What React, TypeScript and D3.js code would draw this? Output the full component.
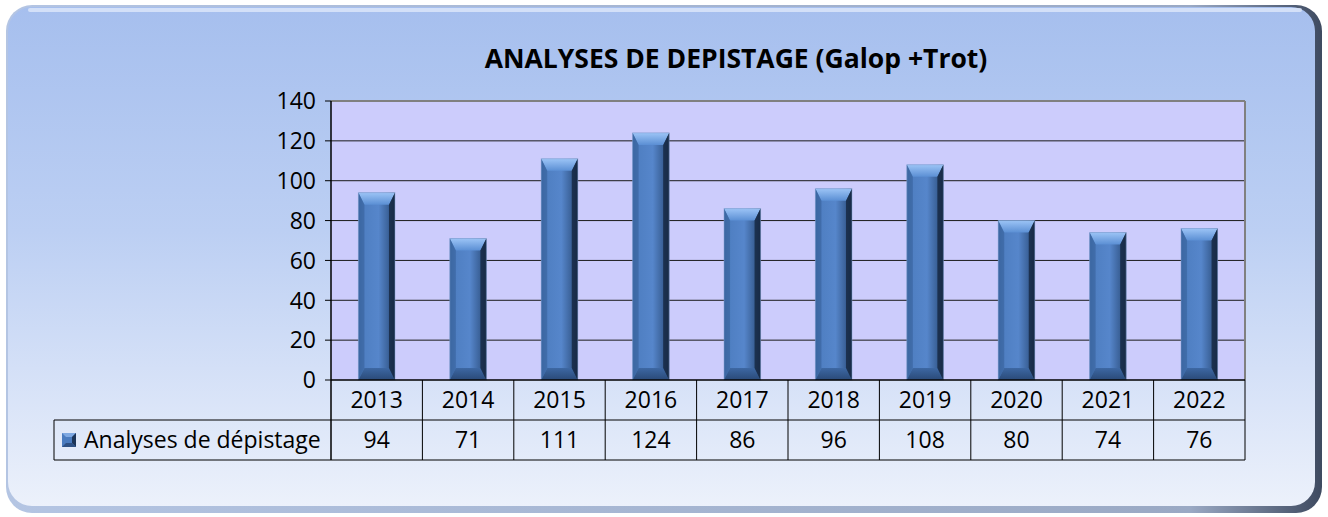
import React from 'react';
import * as d3 from 'd3';

const years = ['2013', '2014', '2015', '2016', '2017', '2018', '2019', '2020', '2021', '2022'];
const values = [94, 71, 111, 124, 86, 96, 108, 80, 74, 76];
const yTicks = [0, 20, 40, 60, 80, 100, 120, 140];
const seriesName = 'Analyses de dépistage';
const title = 'ANALYSES DE DEPISTAGE (Galop +Trot)';

const W = 1328;
const H = 517;
const plot = { left: 331, right: 1245, top: 101, bottom: 380 };
const rowH = 40;
const legendLeft = 54;
const font = '"Open Sans", sans-serif';
const fs = 23;

export default function App() {
  const x = d3.scaleBand<string>().domain(years).range([plot.left, plot.right]).paddingInner(0.6).paddingOuter(0.3);
  const cols = d3.scaleBand<string>().domain(years).range([plot.left, plot.right]);
  const y = d3.scaleLinear().domain([0, 140]).range([plot.bottom, plot.top]);

  const bw = x.bandwidth();
  const inset = 6;
  const bev = 12;

  return (
    <svg width={W} height={H} style={{ position: 'absolute', left: 0, top: 0 }}>
      <defs>
        <linearGradient id="bg" x1="0" y1="0" x2="0" y2="1">
          <stop offset="0%" stopColor="#a6bfee" />
          <stop offset="45%" stopColor="#bccff3" />
          <stop offset="100%" stopColor="#ecf1fb" />
        </linearGradient>
        <linearGradient id="rim" x1="0" y1="0" x2="1" y2="0">
          <stop offset="0%" stopColor="#b4c5e3" />
          <stop offset="90%" stopColor="#9aa9c4" />
          <stop offset="100%" stopColor="#3e4a60" />
        </linearGradient>
        <linearGradient id="bar" x1="0" y1="0" x2="1" y2="0">
          <stop offset="0%" stopColor="#3f6ca8" />
          <stop offset="15%" stopColor="#4f7fc2" />
          <stop offset="55%" stopColor="#5686cb" />
          <stop offset="82%" stopColor="#3b6299" />
          <stop offset="100%" stopColor="#1b2f4c" />
        </linearGradient>
        <linearGradient id="topBev" x1="0" y1="0" x2="0" y2="1">
          <stop offset="0%" stopColor="#9cc4f6" />
          <stop offset="100%" stopColor="#5b8fd4" />
        </linearGradient>
        <linearGradient id="botBev" x1="0" y1="0" x2="0" y2="1">
          <stop offset="0%" stopColor="#3d68a3" />
          <stop offset="100%" stopColor="#2a4a78" />
        </linearGradient>
      </defs>

      {/* background panel */}
      <rect x={6} y={5} width={1316} height={508} rx={26} fill="url(#rim)" />
      <rect x={8} y={7} width={1307} height={499} rx={24} fill="url(#bg)" />
      <path d="M 30 10 L 1300 10" stroke="#dfe9fb" strokeWidth={4} strokeLinecap="round" opacity={0.8} />

      <text x={736} y={68} textAnchor="middle" fontFamily={font} fontWeight="bold" fontSize={26.5} fill="#000">
        {title}
      </text>

      {/* plot area */}
      <rect x={plot.left} y={plot.top} width={plot.right - plot.left} height={plot.bottom - plot.top} fill="#ccccfc" />
      {yTicks.slice(1).map(t => (
        <line key={t} x1={plot.left} x2={plot.right} y1={y(t)} y2={y(t)}
          stroke={t === 140 ? '#808080' : '#1a1a1a'} strokeWidth={t === 140 ? 2 : 1} />
      ))}
      <line x1={plot.right} x2={plot.right} y1={plot.top} y2={plot.bottom} stroke="#808080" strokeWidth={2} />

      {/* bars */}
      {years.map((yr, i) => {
        const x0 = x(yr)!;
        const x1 = x0 + bw;
        const yt = y(values[i]);
        const yb = y(0);
        return (
          <g key={yr}>
            <rect x={x0} y={yt} width={bw} height={yb - yt} fill="url(#bar)" />
            <polygon points={`${x0},${yt} ${x1},${yt} ${x1 - inset},${yt + bev} ${x0 + inset},${yt + bev}`} fill="url(#topBev)" />
            <polygon points={`${x0},${yb} ${x1},${yb} ${x1 - inset},${yb - bev} ${x0 + inset},${yb - bev}`} fill="url(#botBev)" />
            <polygon points={`${x0},${yt} ${x0 + inset},${yt + bev} ${x0 + inset},${yb - bev} ${x0},${yb}`} fill="#3a65a0" opacity={0.7} />
            <polygon points={`${x1},${yt} ${x1 - inset},${yt + bev} ${x1 - inset},${yb - bev} ${x1},${yb}`} fill="#172a45" opacity={0.85} />
            <rect x={x0} y={yt} width={bw} height={yb - yt} fill="none" stroke="#7f9fcf" strokeOpacity={0.5} strokeWidth={1} />
          </g>
        );
      })}

      {/* y axis */}
      <line x1={plot.left} x2={plot.left} y1={plot.top} y2={plot.bottom + 2 * rowH} stroke="#000" strokeWidth={1.5} />
      {yTicks.map(t => (
        <g key={t}>
          <line x1={plot.left - 6} x2={plot.left} y1={y(t)} y2={y(t)} stroke="#000" />
          <text x={plot.left - 15} y={y(t)} dy="0.36em" textAnchor="end" fontFamily={font} fontSize={fs} fill="#000">
            {t}
          </text>
        </g>
      ))}

      {/* data table */}
      <line x1={plot.left} x2={plot.right} y1={plot.bottom} y2={plot.bottom} stroke="#000" strokeWidth={1.5} />
      <line x1={legendLeft} x2={plot.right} y1={plot.bottom + rowH} y2={plot.bottom + rowH} stroke="#000" />
      <line x1={legendLeft} x2={plot.right} y1={plot.bottom + 2 * rowH} y2={plot.bottom + 2 * rowH} stroke="#000" />
      <line x1={legendLeft} x2={legendLeft} y1={plot.bottom + rowH} y2={plot.bottom + 2 * rowH} stroke="#000" />
      {years.map(yr => (
        <line key={yr} x1={cols(yr)! + cols.bandwidth()} x2={cols(yr)! + cols.bandwidth()}
          y1={plot.bottom} y2={plot.bottom + 2 * rowH} stroke="#000" />
      ))}
      {years.map((yr, i) => {
        const cx = cols(yr)! + cols.bandwidth() / 2;
        return (
          <g key={yr} fontFamily={font} fontSize={fs} fill="#000" textAnchor="middle">
            <text x={cx} y={plot.bottom + rowH / 2} dy="0.36em">{yr}</text>
            <text x={cx} y={plot.bottom + rowH * 1.5} dy="0.36em">{values[i]}</text>
          </g>
        );
      })}

      {/* legend key */}
      <g transform={`translate(62, ${plot.bottom + rowH * 1.5 - 7})`}>
        <rect width={14} height={14} fill="#4a7bbf" />
        <polygon points="0,0 14,0 10,4 4,4" fill="#7ea8e2" />
        <polygon points="14,0 14,14 10,10 10,4" fill="#1d3558" />
        <polygon points="0,14 14,14 10,10 4,10" fill="#2e5185" />
      </g>
      <text x={84} y={plot.bottom + rowH * 1.5} dy="0.36em" fontFamily={font} fontSize={fs} fill="#000">
        {seriesName}
      </text>
    </svg>
  );
}
